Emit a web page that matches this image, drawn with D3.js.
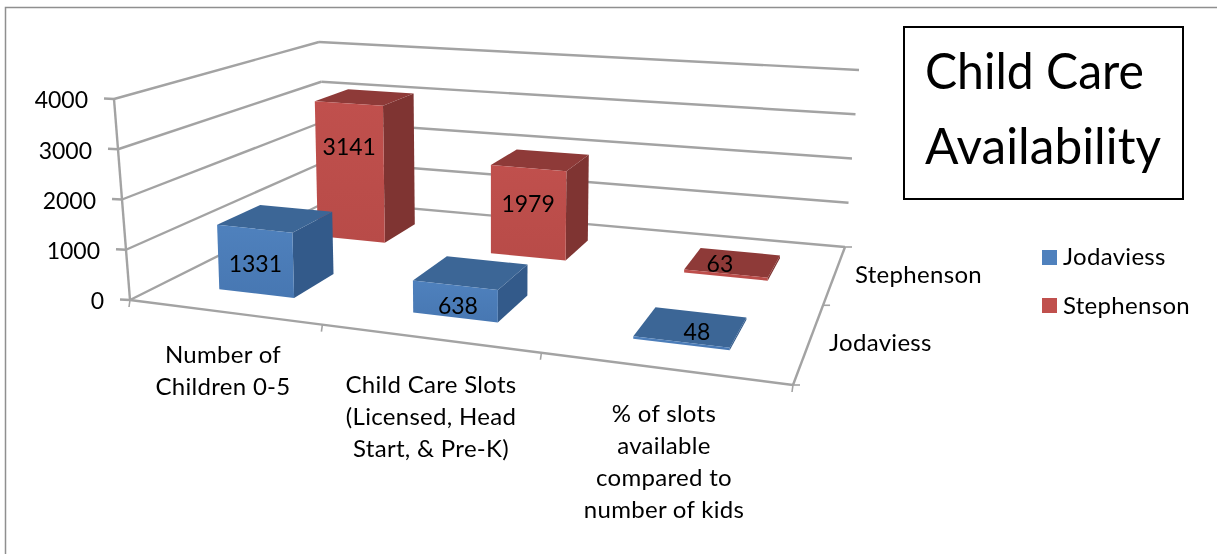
<!DOCTYPE html>
<html><head><meta charset="utf-8">
<script src="https://cdn.jsdelivr.net/npm/d3@7/dist/d3.min.js"></script>
<style>html,body{margin:0;background:#fff}svg{display:block;filter:blur(0.35px)}text{font-family:Lato,"Open Sans",sans-serif;fill:#000}</style>
</head><body><svg id="c" width="1217" height="554"></svg>
<script>
const categories = ["Number of Children 0-5","Child Care Slots (Licensed, Head Start, & Pre-K)","% of slots available compared to number of kids"];
const seriesNames = ["Jodaviess","Stephenson"];
const jodaviess = [1331,638,48];
const stephenson = [3141,1979,63];
const valueTicks = [0,1000,2000,3000,4000];
const categoryLines = [["Number of","Children 0-5"],["Child Care Slots","(Licensed, Head","Start, & Pre-K)"],["% of slots","available","compared to","number of kids"]];
const colors = {Jodaviess:{front:"#4f81bd",frontDark:"#4777b2",top:"#3c6696",side:"#335a8a"},
                Stephenson:{front:"#c0504d",frontDark:"#b84b48",top:"#8e3a38",side:"#7f3432"}};

const svg = d3.select("#c");
function homography(p){
  const [[x0,y0],[x1,y1],[x2,y2],[x3,y3]]=p;
  const dx1=x1-x2,dx2=x3-x2,dy1=y1-y2,dy2=y3-y2,sx=x0-x1+x2-x3,sy=y0-y1+y2-y3,den=dx1*dy2-dx2*dy1;
  const g=(sx*dy2-dx2*sy)/den,h=(dx1*sy-sx*dy1)/den;
  const a=x1-x0+g*x1,b=x3-x0+h*x3,d=y1-y0+g*y1,e=y3-y0+h*y3;
  return (u,v)=>{const w=g*u+h*v+1;return [(a*u+b*v+x0)/w,(d*u+e*v+y0)/w];};
}
const floorH = homography([[130,300],[793,385],[845,247],[328,201]]);
const topH   = homography([[114,99],[808,165],[859,70],[319,42]]);
const h = d3.scaleLinear().domain([0,4000]).range([0,1]);
const P = (u,v,w)=>{const a=floorH(u,v),b=topH(u,v),t=h(w);return [a[0]+(b[0]-a[0])*t,a[1]+(b[1]-a[1])*t];};
// bars lean less than the box walls and sit a touch off the raw projection
const B = (u,v,w)=>{const a=floorH(u,v),b=topH(u,v),t=h(w)*0.99,y=a[1]+(b[1]-a[1])*t;
  return [a[0]+(a[0]-492)*0.000127*(a[1]-y)-2.5+a[0]*0.0063, y+1.2];};
const xBand = d3.scaleBand().domain(categories).range([0,1]).paddingInner(0.6).paddingOuter(0.3);
const zBand = d3.scaleBand().domain(seriesNames).range([0,1]).paddingInner(0.6).paddingOuter(0.3);

svg.append("path").attr("d","M5.5 554V7.5H1217").attr("fill","none").attr("stroke","#8f8f8f").attr("stroke-width",1.5);

const axisColor="#a3a3a3", g=svg.append("g").attr("fill","none").attr("stroke",axisColor).attr("stroke-width",2.4);
const seg=(a,b)=>g.append("line").attr("x1",a[0]).attr("y1",a[1]).attr("x2",b[0]).attr("y2",b[1]);
valueTicks.forEach(t=>{
  seg(P(0,1,t),P(1,1,t));
  seg(P(0,0,t),P(0,1,t));
  const p=P(0,0,t); seg([p[0]-10,p[1]-0.5],p);
  svg.append("text").attr("x",p[0]-26).attr("y",p[1]).attr("dy","0.41em").attr("text-anchor","end").attr("font-size",23).text(t);
});
seg(P(0,0,0),P(0,0,4000));
seg(P(0,0,0),P(1,0,0));
seg(P(1,0,0),P(1,1,0));
d3.range(0,categories.length+1).forEach(i=>{const p=P(i/categories.length,0,0);seg(p,[p[0]-1,p[1]+7]).attr("stroke-width",1.6);});
[0,0.5,1].forEach(v=>{const p=P(1,v,0);seg(p,[p[0]+7,p[1]]).attr("stroke-width",1.6);});

const defs=svg.append("defs");
seriesNames.forEach(s=>{const lg=defs.append("linearGradient").attr("id","f"+s).attr("x1",0).attr("y1",0).attr("x2",0).attr("y2",1);
  lg.append("stop").attr("offset",0).attr("stop-color",colors[s].front);
  lg.append("stop").attr("offset",1).attr("stop-color",colors[s].frontDark);});

const poly=(pts,fill)=>svg.append("polygon").attr("points",pts.map(p=>p.map(n=>n.toFixed(1)).join(",")).join(" ")).attr("fill",fill);
const labelFraction={3141:0.68,1979:0.6,1331:0.46,638:0.36};
const labelNudge={63:[-13,1],48:[6,5],638:[3,0]};
const labelQueue=[];
[["Stephenson",stephenson],["Jodaviess",jodaviess]].forEach(([s,vals])=>{
  vals.forEach((val,i)=>{
    const c=categories[i],u0=xBand(c),u1=u0+xBand.bandwidth(),v0=zBand(s),v1=v0+zBand.bandwidth();
    poly([B(u1,v0,0),B(u1,v1,0),B(u1,v1,val),B(u1,v0,val)],colors[s].side);
    poly([B(u0,v0,val),B(u1,v0,val),B(u1,v1,val),B(u0,v1,val)],colors[s].top);
    poly([B(u0,v0,0),B(u1,v0,0),B(u1,v0,val),B(u0,v0,val)],"url(#f"+s+")");
    const um=(u0+u1)/2;
    const p = val<100 ? B(um,(v0+v1)/2,val) : B(um,v0,val*labelFraction[val]);
    const n = labelNudge[val]||[0,0];
    labelQueue.push([[p[0]+n[0],p[1]+n[1]],val]);
  });
});
labelQueue.forEach(([p,val])=>svg.append("text").attr("x",p[0]).attr("y",p[1]).attr("dy","0.36em").attr("text-anchor","middle").attr("font-size",23).text(val));

const labelAttrs=sel=>sel.attr("dy","0.32em").attr("font-size",24).attr("letter-spacing",0.3);
const catCenter=[223,431,664], catFirst=[355,385,414];
categoryLines.forEach((lines,i)=>lines.forEach((l,j)=>svg.append("text").attr("x",catCenter[i]).attr("y",catFirst[i]+32*j).attr("text-anchor","middle").call(labelAttrs).text(l)));

svg.append("text").attr("x",855).attr("y",275).call(labelAttrs).text(seriesNames[1]);
svg.append("text").attr("x",829).attr("y",343).call(labelAttrs).text(seriesNames[0]);

seriesNames.forEach((s,i)=>{
  svg.append("rect").attr("x",1042).attr("y",250+48*i).attr("width",15).attr("height",15).attr("fill",colors[s].front);
  svg.append("text").attr("x",1063).attr("y",257+49*i).call(labelAttrs).text(s);
});

svg.append("rect").attr("x",904).attr("y",27).attr("width",279).attr("height",172).attr("fill","#fff").attr("stroke","#000").attr("stroke-width",2);
svg.append("text").attr("x",925).attr("y",88.5).attr("font-size",50).attr("textLength",219).attr("lengthAdjust","spacingAndGlyphs").text("Child Care");
svg.append("text").attr("x",925).attr("y",163.5).attr("font-size",50).attr("textLength",236).attr("lengthAdjust","spacingAndGlyphs").text("Availability");
</script></body></html>
